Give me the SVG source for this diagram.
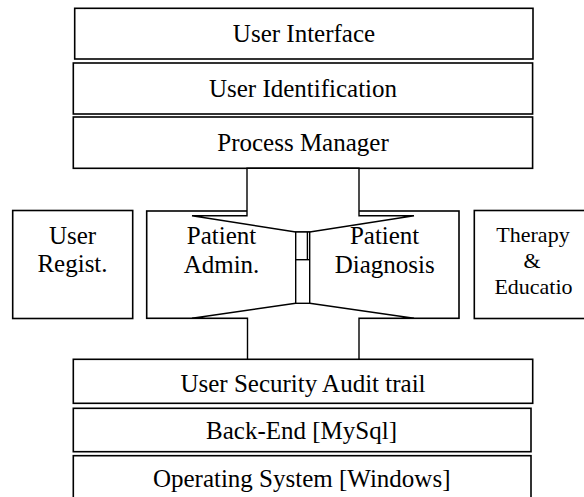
<svg xmlns="http://www.w3.org/2000/svg" width="584" height="497" viewBox="0 0 584 497">
<style>
.box{fill:#fff;stroke:#000;stroke-width:1.6}
.arr{fill:#fff;stroke:#000;stroke-width:1.4;stroke-linejoin:miter}
.ln{fill:none;stroke:#000;stroke-width:1.4}
text{font-family:"Liberation Serif","Times New Roman",serif;font-size:25px;fill:#000;text-anchor:middle}
.sm{font-size:22px}
</style>
<rect width="584" height="497" fill="#fff"/>
<g id="user-interface"><rect class="box" x="74.7" y="8.3" width="458.3" height="50.7"/><text x="304" y="41.7">User Interface</text></g>
<g id="user-identification"><rect class="box" x="73.3" y="63" width="459.3" height="51"/><text x="303" y="96.7">User Identification</text></g>
<g id="process-manager"><rect class="box" x="73.3" y="117" width="459.3" height="51.3"/><text x="303" y="151">Process Manager</text></g>
<g id="user-regist"><rect class="box" x="12.7" y="210.5" width="120" height="108"/><text x="72.5" y="244.3">User</text><text x="72.5" y="271.5">Regist.</text></g>
<g id="patient-box"><rect class="box" x="146.7" y="211" width="312.3" height="107.3"/></g>
<g id="therapy"><rect class="box" x="474.3" y="210.5" width="120" height="108"/><text class="sm" x="533" y="241.7">Therapy</text><text class="sm" x="532" y="268.3">&amp;</text><text class="sm" x="533.5" y="294">Educatio</text></g>
<g id="user-security"><rect class="box" x="73.3" y="359.3" width="459.4" height="44"/><text x="303" y="391.7">User Security Audit trail</text></g>
<g id="back-end"><rect class="box" x="73.3" y="408.3" width="457.7" height="43.4"/><text x="301.5" y="439.3">Back-End [MySql]</text></g>
<g id="operating-system"><rect class="box" x="73.3" y="455.7" width="457.7" height="50"/><text x="301.7" y="487.3">Operating System [Windows]</text></g>
<g id="connectors">
<polygon class="arr" points="247,168.3 247,215.7 192,215.7 295.7,232 309.7,232 414,215.7 359,215.7 359,168.3"/>
<polygon class="arr" points="247.5,359.3 247.5,318.3 192,318.3 295.7,303.3 309.7,303.3 414,318.3 359,318.3 359,359.3"/>
<rect class="arr" x="295.7" y="232" width="14" height="71.3"/>
<line class="ln" x1="295.7" y1="259.7" x2="309.7" y2="259.7"/>
<line class="ln" x1="307.4" y1="232" x2="307.4" y2="259.7"/>
</g>
<g id="patient-labels"><text x="221.5" y="244.3">Patient</text><text x="221.5" y="272.5">Admin.</text><text x="384.6" y="244.3">Patient</text><text x="384.7" y="272.5">Diagnosis</text></g>
</svg>
